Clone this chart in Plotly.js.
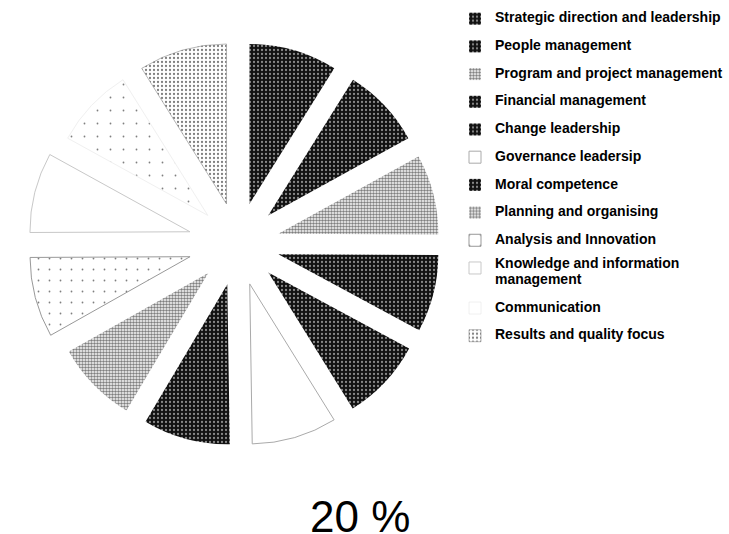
<!DOCTYPE html>
<html>
<head>
<meta charset="utf-8">
<script src="https://cdn.plot.ly/plotly-3.0.1.min.js"></script>
<style>
  html, body { margin: 0; padding: 0; background: #fff; }
  #chart { width: 729px; height: 534px; }
</style>
</head>
<body>
<div id="chart"></div>
<script>
// competency areas, clockwise from 12 o'clock
var categories = [
  'Strategic direction and leadership',
  'People management',
  'Program and project management',
  'Financial management',
  'Change leadership',
  'Governance leadersip',
  'Moral competence',
  'Planning and organising',
  'Analysis and Innovation',
  'Knowledge and information<br>management',
  'Communication',
  'Results and quality focus'
];

// share of each slice
var shares = [8.9, 8.1, 8.1, 7.8, 8.3, 8.6, 8.8, 8.3, 8.1, 8.1, 8.1, 8.9];

var centreLabel = '20 %';

// fills: base colour + dot pattern on top
var baseColors = ['#111', '#111', '#fff', '#111', '#111', '#fff', '#111', '#fff', '#fff', '#fff', '#fff', '#fff'];
var dotShapes  = ['.', '.', '.', '.', '.', '', '.', '.', '.', '', '.', '.'];
var dotColors  = ['#fff', '#fff', '#000', '#fff', '#fff', '#000', '#fff', '#000', '#000', '#000', '#000', '#000'];
var dotSizes   = [4, 4, 3, 4, 4, 4, 4, 3, 11, 4, 13, 4];
var dotSolid   = [0.25, 0.25, 0.55, 0.25, 0.25, 0.2, 0.25, 0.55, 0.02, 0.2, 0.015, 0.25];
var edgeColors = ['#000', '#000', '#000', '#000', '#000', '#aaa', '#000', '#000', '#999', '#c8c8c8', '#f0f0f0', '#888'];
var edgeWidths = [0, 0, 0, 0, 0, 1, 0, 0, 1, 1, 1, 0.6];
var pulls      = [0.26, 0.26, 0.26, 0.26, 0.26, 0.26, 0.26, 0.26, 0.31, 0.31, 0.26, 0.26];

// legend rows are taller than the text, so the text itself is sized in a span
var legendText = categories.map(function (c) {
  var parts = c.split('<br>').map(function (p) {
    return '<span style="font-size:14px"><b>' + p + '</b></span>';
  });
  if (parts.length > 1) {
    // lift the first line a little so the two lines do not touch
    parts[0] = '<sup>' + parts[0] + '</sup>';
  }
  return parts.join('<br>') + '<br>&nbsp;';
});

var trace = {
  type: 'pie',
  labels: legendText,
  values: shares,
  sort: false,
  direction: 'clockwise',
  rotation: 0,
  pull: pulls,
  textinfo: 'none',
  hoverinfo: 'percent',
  domain: {x: [28.4 / 729, 447.6 / 729], y: [1 - 453.6 / 534, 1 - 34.4 / 534]},
  marker: {
    colors: baseColors,
    line: {color: edgeColors, width: edgeWidths},
    pattern: {
      shape: dotShapes,
      fgcolor: dotColors,
      size: dotSizes,
      solidity: dotSolid,
      fillmode: 'overlay'
    }
  }
};

var layout = {
  width: 729,
  height: 534,
  margin: {l: 0, r: 0, t: 0, b: 0, autoexpand: false},
  paper_bgcolor: '#fff',
  showlegend: true,
  legend: {
    x: 455 / 729,
    xanchor: 'left',
    y: 1 - 6 / 534,
    yanchor: 'top',
    valign: 'top',
    font: {family: 'Liberation Sans, Arial, sans-serif', size: 9.5, color: '#000'},
    bgcolor: 'rgba(0,0,0,0)',
    traceorder: 'normal'
  },
  annotations: [{
    text: centreLabel,
    xref: 'paper', yref: 'paper',
    x: 360 / 729, y: 1 - 516 / 534,
    xanchor: 'center', yanchor: 'middle',
    showarrow: false,
    font: {family: 'Liberation Sans, Arial, sans-serif', size: 44, color: '#000'}
  }]
};

Plotly.newPlot('chart', [trace], layout, {displayModeBar: false});
</script>
</body>
</html>
